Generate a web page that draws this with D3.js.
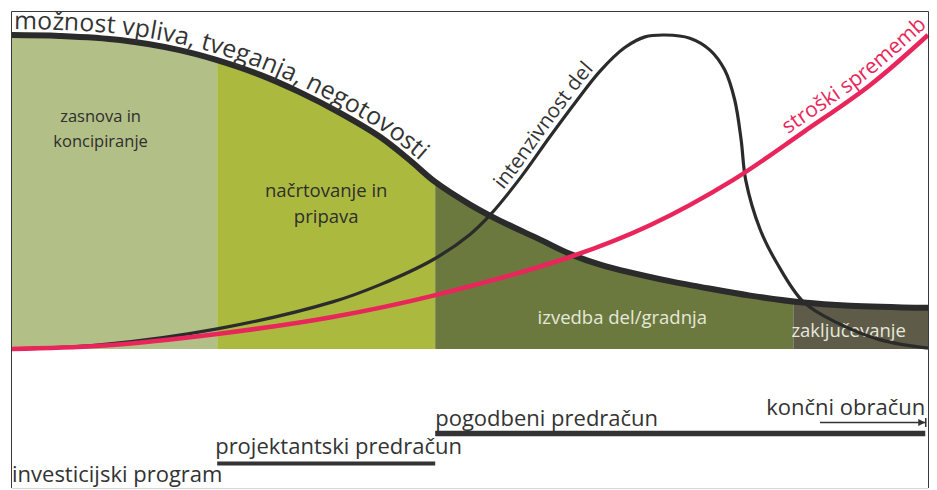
<!DOCTYPE html>
<html>
<head>
<meta charset="utf-8">
<script src="https://cdn.jsdelivr.net/npm/d3@7"></script>
<style>
  body { margin: 0; background: #fff; }
  svg { display: block; font-family: 'Open Sans', sans-serif; }
</style>
</head>
<body>
<div id="chart"></div>
<script>
// time axis: % of project duration, value axis: 0-100 (relative)
const phaseNames = [['zasnova in', 'koncipiranje'], ['načrtovanje in', 'pripava'], ['izvedba del/gradnja'], ['zaključevanje']];
const phaseBounds = [0, 22.4, 46.2, 85.3, 100];

// možnost vpliva, tveganja, negotovosti
const influenceT = [0, 5.2, 11.8, 18.3, 22.4, 27.1, 31.4, 35.8, 40.2, 43.4, 46.2, 50, 53.3, 57.6, 60.9, 64.2, 71.8, 75.1, 80.6, 86.4, 91.5, 100];
const influenceV = [100, 99.7, 98.4, 95.2, 92.0, 87.3, 81.8, 75.2, 67.5, 60.2, 53.2, 46.0, 40.8, 34.9, 30.3, 26.9, 21.6, 19.8, 17.0, 14.8, 13.8, 13.1];

// intenzivnost del
const intensityT = [0, 9.6, 22.4, 35.0, 40.2, 46.0, 50.0, 52.2, 55.5, 58.7, 61.5, 64.2, 66.9, 69.1, 71.3, 74.0, 76.2, 77.8, 78.9, 79.6, 80.1, 81.7, 83.5, 86.4, 90.1, 94.8, 100];
const intensityV = [0, 1.3, 6.4, 15.0, 20.5, 28.5, 36.5, 42.7, 54.5, 67.5, 78.5, 88.5, 96.0, 99.4, 100, 99.0, 95.2, 88.9, 79.3, 66.6, 53.8, 37.9, 27.4, 15.0, 8.3, 2.9, 0.3];

// stroški sprememb
const changesT = [0, 9.6, 22.4, 35.0, 46.0, 60.9, 69.7, 78.7, 86.4, 93.7, 100];
const changesV = [0, 1.0, 4.8, 10.2, 17.0, 29.3, 39.5, 53.8, 69.1, 84.1, 100];

// cost estimates along the project
const estimateNames = ['investicijski program', 'projektantski predračun', 'pogodbeni predračun', 'končni obračun'];
const estimateFrom = [0, 22.4, 46.2, 88.2];
const estimateTo = [22.4, 46.2, 99.7, 99.7];

const width = 937;
const height = 490;
const plot = { left: 12, right: 928, top: 35, bottom: 349 };

const phaseColors = ['#b2bf87', '#abba3f', '#6c793e', '#5e5c48'];
const phaseLabels = [
  { dx: -14, y: [122, 147], size: 16.5, color: '#2e2e2e' },
  { dx: 0, y: [197, 223], size: 18.5, color: '#2e2e2e' },
  { dx: 8, y: [324], size: 18.5, color: '#e6e8dc' },
  { dx: -12, y: [337], size: 18.5, color: '#e6e8dc' }
];
const estimateLayout = [
  { y: 482 },
  { y: 454, dx: -2, barY: 463.5, bar: 4 },
  { y: 426, barY: 433.5, bar: 5.5 },
  { y: 415, barY: 422.5, bar: 1.5, arrow: true }
];

const x = d3.scaleLinear().domain([0, 100]).range([plot.left, plot.right]);
const y = d3.scaleLinear().domain([0, 100]).range([plot.bottom, plot.top]);

const zip = (t, v) => t.map((d, i) => [d, v[i]]);
const influence = zip(influenceT, influenceV);
const intensity = zip(intensityT, intensityV);
const changes = zip(changesT, changesV);

const curve = d3.curveCatmullRom.alpha(0.5);

const line = d3.line()
  .x(d => x(d[0]))
  .y(d => y(d[1]))
  .curve(curve);

const area = d3.area()
  .x(d => x(d[0]))
  .y0(y(0))
  .y1(d => y(d[1]))
  .curve(curve);

const svg = d3.select('#chart').append('svg')
  .attr('width', width)
  .attr('height', height);

const defs = svg.append('defs');
defs.append('clipPath').attr('id', 'under')
  .append('path').attr('d', area(influence));

defs.append('marker')
  .attr('id', 'head')
  .attr('viewBox', '0 0 10 10')
  .attr('refX', 10)
  .attr('refY', 5)
  .attr('markerUnits', 'userSpaceOnUse')
  .attr('markerWidth', 9)
  .attr('markerHeight', 7)
  .attr('orient', 'auto')
  .append('path')
  .attr('d', 'M0,0L10,5L0,10Z')
  .attr('fill', '#333');

// phases, filled below the influence curve
svg.append('g')
  .attr('clip-path', 'url(#under)')
  .selectAll('rect')
  .data(phaseNames)
  .enter().append('rect')
  .attr('x', (d, i) => x(phaseBounds[i]))
  .attr('width', (d, i) => x(phaseBounds[i + 1]) - x(phaseBounds[i]))
  .attr('y', plot.top - 10)
  .attr('height', plot.bottom - plot.top + 10)
  .attr('fill', (d, i) => phaseColors[i]);

const labels = svg.append('g').attr('text-anchor', 'middle');
phaseNames.forEach((rows, i) => {
  const l = phaseLabels[i];
  const cx = (x(phaseBounds[i]) + x(phaseBounds[i + 1])) / 2 + l.dx;
  rows.forEach((row, j) => {
    labels.append('text')
      .attr('x', cx)
      .attr('y', l.y[j])
      .attr('font-size', l.size)
      .attr('fill', l.color)
      .text(row);
  });
});

// curves
svg.append('path')
  .attr('id', 'intensity')
  .attr('d', line(intensity))
  .attr('fill', 'none')
  .attr('stroke', '#2b2b2b')
  .attr('stroke-width', 3.2);

svg.append('path')
  .attr('id', 'influence')
  .attr('d', line(influence))
  .attr('fill', 'none')
  .attr('stroke', '#2b2b2b')
  .attr('stroke-width', 6);

svg.append('path')
  .attr('id', 'changes')
  .attr('d', line(changes))
  .attr('fill', 'none')
  .attr('stroke', '#e8265b')
  .attr('stroke-width', 4.5);

// find the length along a path where it reaches a given x (paths run left to right)
const offsetAt = (id, px) => {
  const node = document.getElementById(id);
  let lo = 0, hi = node.getTotalLength();
  for (let k = 0; k < 30; k++) {
    const mid = (lo + hi) / 2;
    if (node.getPointAtLength(mid).x < px) lo = mid; else hi = mid;
  }
  return lo;
};

const curveLabel = (id, label, fromX, dy, size, color) => {
  svg.append('text')
    .attr('font-size', size)
    .attr('fill', color)
    .append('textPath')
    .attr('href', '#' + id)
    .attr('startOffset', offsetAt(id, fromX))
    .append('tspan')
    .attr('dy', dy)
    .text(label);
};

curveLabel('influence', 'možnost vpliva, tveganja, negotovosti', 14, -6, 24.8, '#333');
curveLabel('intensity', 'intenzivnost del', 508, -6, 20.5, '#333');
curveLabel('changes', 'stroški sprememb', 792, -7, 21, '#e8265b');

// estimates timeline
const est = svg.append('g');
estimateNames.forEach((name, i) => {
  const l = estimateLayout[i];
  if (l.arrow) {
    est.append('text')
      .attr('x', x(estimateTo[i]))
      .attr('y', l.y)
      .attr('text-anchor', 'end')
      .attr('font-size', 22)
      .attr('fill', '#333')
      .text(name);
    est.append('line')
      .attr('x1', x(estimateFrom[i]))
      .attr('x2', x(estimateTo[i]))
      .attr('y1', l.barY)
      .attr('y2', l.barY)
      .attr('stroke', '#333')
      .attr('stroke-width', l.bar)
      .attr('marker-end', 'url(#head)');
    est.append('line')
      .attr('x1', x(estimateTo[i]) + 0.5)
      .attr('x2', x(estimateTo[i]) + 0.5)
      .attr('y1', l.barY - 4.5)
      .attr('y2', l.barY + 4.5)
      .attr('stroke', '#333')
      .attr('stroke-width', 1.5);
    return;
  }
  est.append('text')
    .attr('x', x(estimateFrom[i]) + (l.dx || 0))
    .attr('y', l.y)
    .attr('font-size', 22)
    .attr('fill', '#333')
    .text(name);
  if (l.bar) {
    est.append('line')
      .attr('x1', x(estimateFrom[i]))
      .attr('x2', x(estimateTo[i]))
      .attr('y1', l.barY)
      .attr('y2', l.barY)
      .attr('stroke', '#333')
      .attr('stroke-width', l.bar);
  }
});

// frame
const frame = svg.append('g').attr('fill', 'none');
frame.append('path')
  .attr('d', `M11.5,488V11.5H928.5V488`)
  .attr('stroke', '#3a3a3a');
frame.append('line')
  .attr('x1', 11.5).attr('x2', 928.5)
  .attr('y1', 488.5).attr('y2', 488.5)
  .attr('stroke', '#d8d8d8');
</script>
</body>
</html>
